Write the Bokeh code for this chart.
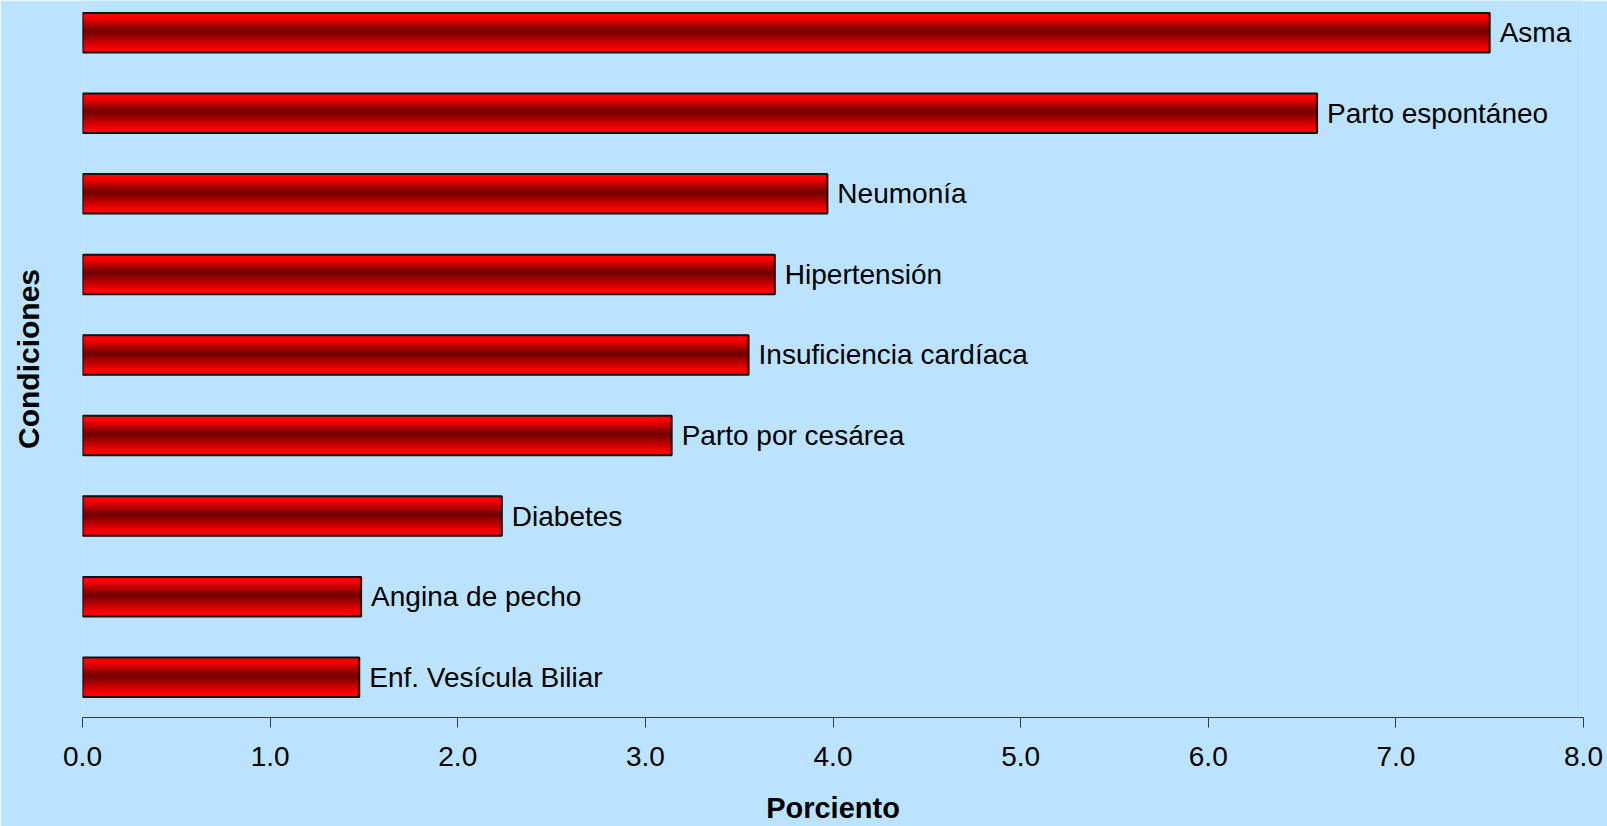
import numpy as np
from bokeh.plotting import figure
from bokeh.models import Range1d, FixedTicker, ColumnDataSource
from bokeh.core.properties import value
from bokeh.embed import file_html
from bokeh.resources import INLINE

# ---- data (top to bottom) ----
categories = ["Asma", "Parto espontáneo", "Neumonía", "Hipertensión",
              "Insuficiencia cardíaca", "Parto por cesárea", "Diabetes",
              "Angina de pecho", "Enf. Vesícula Biliar"]
values = [7.50, 6.58, 3.97, 3.69, 3.55, 3.14, 2.235, 1.485, 1.475]
x_ticks = [0, 1, 2, 3, 4, 5, 6, 7, 8]
x_tick_labels = ["0.0", "1.0", "2.0", "3.0", "4.0", "5.0", "6.0", "7.0", "8.0"]

BG = "#BBE3FF"
FONT = "Liberation Sans"

n = len(categories)
ypos = np.arange(n)[::-1].astype(float)
vals = np.array(values)

p = figure(width=1607, height=826, output_backend="svg", toolbar_location=None,
           x_range=Range1d(0, 8), y_range=Range1d(-0.5, 8.40),
           min_border_left=82, min_border_right=24, min_border_top=0,
           min_border_bottom=0)
p.background_fill_color = BG
p.border_fill_color = BG
p.outline_line_color = None
p.grid.visible = False

# gradient bars: horizontal strips, bright red at the edges, dark red in the middle
bar_h = 0.49
nstrips = 24
edges = np.linspace(-bar_h / 2, bar_h / 2, nstrips + 1)
step = edges[1] - edges[0]
for k in range(nstrips):
    c = (edges[k] + edges[k + 1]) / 2
    t = (c + bar_h / 2) / bar_h          # 0 bottom .. 1 top
    if t >= 0.55:
        d = (t - 0.55) / 0.45
    else:
        d = (0.55 - t) / 0.55
    d = min(max(d / 0.8, 0.0), 1.0)
    r = int(round(112 + (255 - 112) * d))
    col = "#%02x0000" % r
    src = ColumnDataSource(dict(y=ypos + c, right=vals))
    p.hbar(y="y", right="right", left=0, height=step * 1.6,
           source=src, fill_color=col, line_color=None)

# bar outlines
p.hbar(y=ypos, right=vals, left=0, height=bar_h, fill_color=None,
       line_color="#111111", line_width=2)

# labels at bar ends
p.text(x=vals, y=ypos, text=categories, x_offset=10, text_baseline="middle",
       text_align="left", text_font=value(FONT), text_font_size="28px",
       text_color="#000000")

# x axis
xa = p.xaxis[0]
xa.ticker = FixedTicker(ticks=x_ticks)
xa.major_label_overrides = {t: l for t, l in zip(x_ticks, x_tick_labels)}
xa.major_label_text_font = FONT
xa.major_label_text_font_size = "28px"
xa.major_label_text_color = "#000000"
xa.major_label_standoff = 19
xa.major_tick_out = 10
xa.major_tick_in = 0
xa.minor_tick_out = 0
xa.minor_tick_in = 0
xa.axis_line_color = "#3a3a3a"
xa.major_tick_line_color = "#3a3a3a"
xa.axis_label = "Porciento"
xa.axis_label_text_font = FONT
xa.axis_label_text_font_style = "bold"
xa.axis_label_text_font_size = "29px"
xa.axis_label_text_color = "#000000"
xa.axis_label_standoff = 23

# y axis: only the title
ya = p.yaxis[0]
ya.ticker = FixedTicker(ticks=[])
ya.axis_line_color = None
ya.major_tick_out = 0
ya.minor_tick_out = 0
ya.major_label_standoff = 0
ya.axis_label = "Condiciones"
ya.axis_label_text_font = FONT
ya.axis_label_text_font_style = "bold"
ya.axis_label_text_font_size = "30px"
ya.axis_label_text_color = "#000000"
ya.axis_label_standoff = 38

html = file_html(p, INLINE)
html = html.replace("<body>", '<body style="background:%s;">' % BG, 1)
open("out.html", "w").write(html)
